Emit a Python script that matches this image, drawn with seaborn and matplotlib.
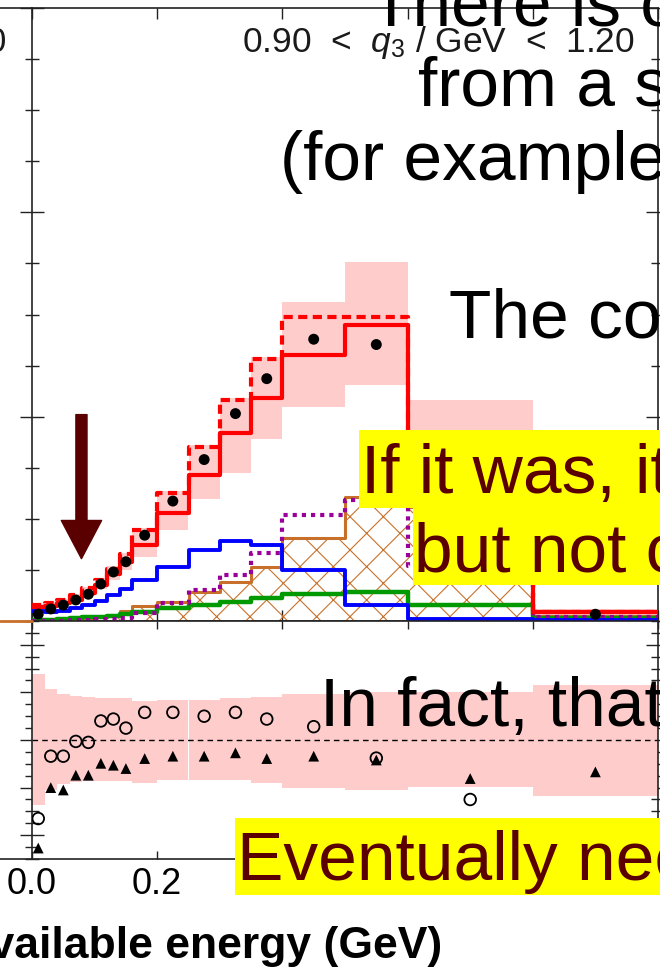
import numpy as np
import matplotlib
matplotlib.use("Agg")
import matplotlib.pyplot as plt
from matplotlib.patches import Rectangle
from matplotlib.lines import Line2D
import seaborn as sns

# =====================
# DATA
# =====================
edges = [0.00, 0.02, 0.04, 0.06, 0.08, 0.10, 0.12, 0.14, 0.16,
         0.20, 0.25, 0.30, 0.35, 0.40, 0.50, 0.60, 0.80, 1.00]
centers = [0.5 * (lo + hi) for lo, hi in zip(edges[:-1], edges[1:])]

data_xsec = [0.034, 0.059, 0.078, 0.103, 0.131, 0.181, 0.240, 0.290, 0.420,
             0.587, 0.790, 1.015, 1.186, 1.379, 1.353, 0.780, 0.033]
mc_solid  = [0.070, 0.075, 0.090, 0.105, 0.135, 0.176, 0.228, 0.290, 0.372,
             0.530, 0.714, 0.918, 1.089, 1.300, 1.447, 0.800, 0.045]
mc_dashed = [0.076, 0.090, 0.105, 0.125, 0.160, 0.200, 0.255, 0.330, 0.445,
             0.627, 0.852, 1.080, 1.280, 1.488, 1.488, 0.860, 0.042]
band_lo   = [0.060, 0.068, 0.080, 0.095, 0.120, 0.155, 0.200, 0.250, 0.314,
             0.445, 0.595, 0.722, 0.893, 1.048, 1.154, 0.620, 0.030]
band_hi   = [0.082, 0.092, 0.110, 0.132, 0.165, 0.212, 0.268, 0.335, 0.453,
             0.637, 0.861, 1.089, 1.290, 1.560, 1.757, 1.080, 0.060]
qe_blue   = [0.050, 0.045, 0.050, 0.065, 0.080, 0.100, 0.125, 0.155, 0.200,
             0.266, 0.347, 0.393, 0.372, 0.250, 0.078, 0.008, 0.004]
mec_green = [0.003, 0.006, 0.010, 0.014, 0.018, 0.022, 0.026, 0.032, 0.042,
             0.062, 0.078, 0.094, 0.111, 0.130, 0.140, 0.078, 0.013]
res_orange = [0.002, 0.004, 0.007, 0.011, 0.016, 0.022, 0.030, 0.050, 0.073,
              0.094, 0.143, 0.192, 0.266, 0.404, 0.608, 0.560, 0.025]
dis_purple = [0.000, 0.001, 0.002, 0.004, 0.006, 0.008, 0.011, 0.015, 0.038,
              0.087, 0.152, 0.225, 0.331, 0.518, 0.590, 0.270, 0.020]

ratio_circ = [0.835, 0.966, 0.966, 0.997, 0.995, 1.040, 1.044, 1.025, 1.058,
              1.058, 1.050, 1.058, 1.044, 1.028, 0.962, 0.875]
ratio_tri  = [0.773, 0.900, 0.895, 0.926, 0.926, 0.951, 0.947, 0.940, 0.961,
              0.966, 0.966, 0.973, 0.961, 0.966, 0.958, 0.919, 0.933]
ratio_lo   = [0.863, 0.895, 0.907, 0.912, 0.914, 0.914, 0.914, 0.914, 0.910,
              0.915, 0.915, 0.915, 0.910, 0.900, 0.896, 0.902, 0.882]
ratio_hi   = [1.138, 1.108, 1.096, 1.093, 1.090, 1.088, 1.088, 1.088, 1.082,
              1.083, 1.083, 1.088, 1.090, 1.096, 1.100, 1.100, 1.115]

x_ticks = [0.0, 0.2, 0.4, 0.6, 0.8, 1.0]
# labels past 0.2 sit under the yellow box in the slide
x_ticklabels = ["0.0", "0.2", "", "", "", ""]

# =====================
# STYLE
# =====================
RED, PINK = "#ff0000", "#ffcccc"
BLUE, GREEN = "#0000ff", "#009a00"
ORANGE, PURPLE = "#c8702a", "#990099"
DARKRED, YELLOW = "#5a0000", "#ffff00"
AXCOL = "#222222"

sns.set_style("ticks")
plt.rcParams["font.family"] = ["Liberation Sans", "DejaVu Sans"]
plt.rcParams["text.color"] = "black"
plt.rcParams["xtick.color"] = AXCOL
plt.rcParams["xtick.labelcolor"] = "black"
plt.rcParams["mathtext.fontset"] = "custom"
plt.rcParams["mathtext.rm"] = "Liberation Sans"
plt.rcParams["mathtext.it"] = "Liberation Sans:italic"
plt.rcParams["hatch.linewidth"] = 0.8

W, H = 660, 969
fig = plt.figure(figsize=(W / 100, H / 100), dpi=100)


def fx(px):
    return px / W


def fy(py):
    return 1 - py / H


ax = fig.add_axes([fx(32), fy(621), fx(658) - fx(32), fy(8) - fy(621)])
axr = fig.add_axes([fx(32), fy(859), fx(658) - fx(32), fy(621) - fy(859)])


def step_hist(a, vals, **kw):
    sns.histplot(x=centers, weights=vals, bins=edges, element="step",
                 fill=False, ax=a, **kw)


widths = np.diff(edges)

# =====================
# TOP PANEL
# =====================
ax.bar(edges[:-1], np.subtract(band_hi, band_lo), bottom=band_lo,
       width=widths, align="edge", color=PINK, linewidth=0, zorder=1)
ax.fill_between(edges, np.append(res_orange, res_orange[-1]), step="post",
                facecolor="none", edgecolor=ORANGE, hatch="x", linewidth=0,
                zorder=2)
step_hist(ax, res_orange, color=ORANGE, linewidth=2.2, zorder=3)
step_hist(ax, mec_green, color=GREEN, linewidth=3.2, zorder=3)
step_hist(ax, dis_purple, color=PURPLE, linewidth=3.0,
          linestyle=(0, (1.0, 1.2)), zorder=3)
step_hist(ax, qe_blue, color=BLUE, linewidth=2.8, zorder=3)
step_hist(ax, mc_dashed, color=RED, linewidth=3.0,
          linestyle=(0, (2.2, 1.3)), zorder=4)
step_hist(ax, mc_solid, color=RED, linewidth=3.0, zorder=4)
sns.scatterplot(x=centers, y=data_xsec, ax=ax, color="black", s=62,
                edgecolor="none", zorder=5)

ax.annotate("", xy=(0.079, 0.305), xytext=(0.079, 1.01),
            arrowprops=dict(arrowstyle="simple,head_length=2.75,head_width=2.9,tail_width=0.8",
                            mutation_scale=10, color=DARKRED, shrinkA=0, shrinkB=0),
            zorder=6)

ax.set_xlim(0, 1.0)
ax.set_ylim(0, 3.0)
ax.set_xticks(x_ticks)
ax.set_xticklabels([])
ax.set_yticks([0, 1, 2, 3])
ax.set_yticks(np.arange(0, 3.01, 0.25), minor=True)
ax.tick_params(axis="x", which="both", direction="in", top=True, bottom=True,
               length=8, width=1, color=AXCOL)
ax.tick_params(axis="y", which="major", direction="inout", left=True,
               right=True, length=17, width=1, color=AXCOL, labelleft=False)
ax.tick_params(axis="y", which="minor", direction="inout", left=True,
               right=True, length=9.5, width=1, color=AXCOL)
ax.set_xlabel("")
ax.set_ylabel("")

# =====================
# RATIO PANEL
# =====================
axr.bar(edges[:-1], np.subtract(ratio_hi, ratio_lo), bottom=ratio_lo,
        width=widths, align="edge", color=PINK, linewidth=0, zorder=1)
axr.axhline(1.0, color="black", linewidth=1.0, linestyle=(0, (4, 3)), zorder=2)
sns.scatterplot(x=centers[:len(ratio_circ)], y=ratio_circ, ax=axr, marker="o",
                s=70, facecolor="none", edgecolor="black", linewidth=1.3,
                zorder=3)
sns.scatterplot(x=centers, y=ratio_tri, ax=axr, marker="^", s=60,
                color="black", edgecolor="none", zorder=3)

axr.set_xlim(0, 1.0)
axr.set_ylim(0.75, 1.25)
axr.set_xticks(x_ticks)
axr.set_xticklabels(x_ticklabels)
axr.set_yticks([0.8, 0.9, 1.0, 1.1, 1.2])
axr.set_yticks(np.arange(0.75, 1.251, 0.025), minor=True)
axr.tick_params(axis="x", which="both", direction="in", top=True, bottom=True,
                length=6, width=1, color=AXCOL, labelsize=26, pad=6)
axr.tick_params(axis="y", which="major", direction="inout", left=True,
                right=True, length=17, width=1, color=AXCOL, labelleft=False)
axr.tick_params(axis="y", which="minor", direction="inout", left=True,
                right=True, length=10, width=1, color=AXCOL)
axr.set_xlabel("")
axr.set_ylabel("")

for a in (ax, axr):
    for sp in a.spines.values():
        sp.set_color(AXCOL)
        sp.set_linewidth(1.2)

# neighbouring panel frame that leaks in on the left
fig.add_artist(Line2D([0, fx(32)], [fy(8), fy(8)], color=AXCOL, lw=1.2))
fig.add_artist(Line2D([0, fx(32)], [fy(621), fy(621)], color=ORANGE, lw=2))
fig.add_artist(Line2D([0, fx(32)], [fy(859), fy(859)], color=AXCOL, lw=1.2))
fig.text(fx(6), fy(52), "0.60 < $q_3$ / GeV < 0.90", ha="right",
         va="baseline", fontsize=25, color="#1a1a1a")

# panel labels
fig.text(fx(242), fy(52), "0.90  <  $q_3$ / GeV  <  1.20", ha="left",
         va="baseline", fontsize=25.5, color="#1a1a1a")
fig.text(fx(442), fy(958), "Available energy (GeV)", ha="right",
         va="baseline", fontsize=32, fontweight="bold", color="black")

# =====================
# SLIDE OVERLAY TEXT
# =====================
SL = 50
fig.text(fx(370), fy(25), "There is c", fontsize=SL, va="baseline")
fig.text(fx(418), fy(105), "from a s", fontsize=SL, va="baseline")
fig.text(fx(280), fy(180), "(for example", fontsize=SL, va="baseline")
fig.text(fx(449), fy(338), "The co", fontsize=SL, va="baseline")
fig.text(fx(320), fy(726), "In fact, that", fontsize=SL, va="baseline")

fig.add_artist(Rectangle((fx(359), fy(508)), 1 - fx(359), fy(430) - fy(508),
                         transform=fig.transFigure, color=YELLOW, lw=0, zorder=2))
fig.add_artist(Rectangle((fx(413), fy(585)), 1 - fx(413), fy(508) - fy(585),
                         transform=fig.transFigure, color=YELLOW, lw=0, zorder=2))
fig.add_artist(Rectangle((fx(235), fy(895)), 1 - fx(235), fy(818) - fy(895),
                         transform=fig.transFigure, color=YELLOW, lw=0, zorder=2))
fig.text(fx(361), fy(493), "If it was, it", fontsize=SL, va="baseline",
         color=DARKRED, zorder=4)
fig.text(fx(414), fy(572), "but not c", fontsize=SL, va="baseline",
         color=DARKRED, zorder=4)
fig.text(fx(237), fy(880), "Eventually nee", fontsize=SL, va="baseline",
         color=DARKRED, zorder=4)

fig.savefig("out.png", dpi=100)
